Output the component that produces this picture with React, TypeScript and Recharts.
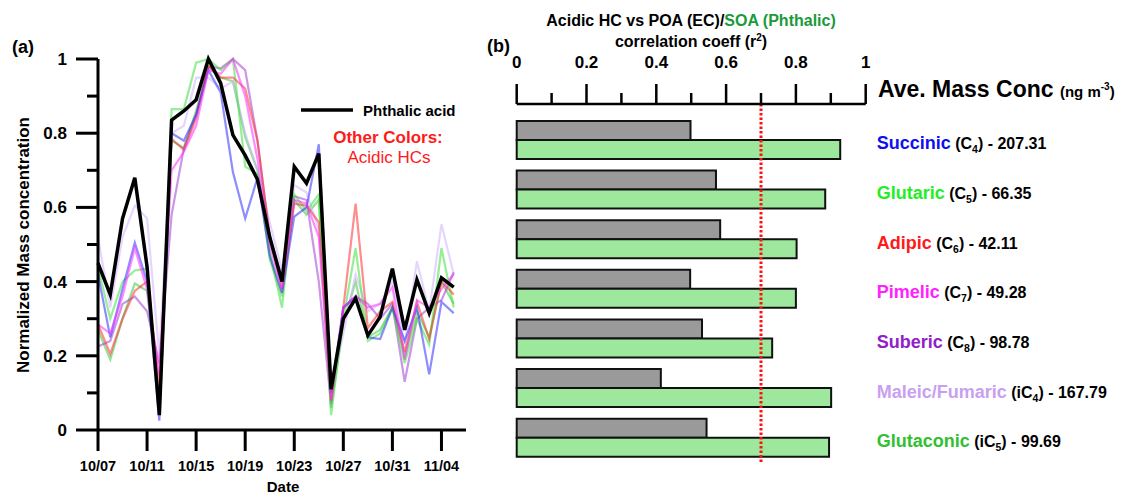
import React from 'react';
import { LineChart, Line, XAxis, YAxis, BarChart, Bar, ReferenceLine } from 'recharts';

const FONT = '"Liberation Sans", Arial, Helvetica, sans-serif';

// ---------- Panel (a) data ----------
const dates = ['10/07','10/08','10/09','10/10','10/11','10/12','10/13','10/14','10/15','10/16',
  '10/17','10/18','10/19','10/20','10/21','10/22','10/23','10/24','10/25','10/26',
  '10/27','10/28','10/29','10/30','10/31','11/01','11/02','11/03','11/04','11/05'];
const dateTickIdx = [0, 4, 8, 12, 16, 20, 24, 28];

const phthalic = [0.45,0.365,0.57,0.68,0.44,0.04,0.835,0.86,0.89,1.0,0.935,0.795,0.74,0.675,0.52,0.40,0.71,0.665,0.745,0.11,0.30,0.355,0.255,0.305,0.435,0.27,0.405,0.315,0.41,0.385];
const succinic = [0.42,0.25,0.38,0.505,0.40,0.025,0.80,0.78,0.85,0.97,0.91,0.695,0.57,0.68,0.47,0.37,0.575,0.60,0.77,0.10,0.33,0.36,0.25,0.245,0.33,0.24,0.33,0.15,0.345,0.315];
const glutaric = [0.44,0.30,0.40,0.43,0.435,0.05,0.865,0.865,0.99,1.0,0.97,1.0,0.71,0.69,0.48,0.33,0.635,0.59,0.635,0.04,0.30,0.49,0.24,0.26,0.33,0.18,0.30,0.23,0.49,0.33];
const adipic = [0.285,0.205,0.30,0.375,0.40,0.12,0.785,0.755,0.84,0.98,0.95,0.95,0.92,0.78,0.52,0.38,0.61,0.605,0.56,0.08,0.33,0.61,0.275,0.32,0.345,0.21,0.345,0.245,0.40,0.365];
const pimelic = [0.285,0.26,0.36,0.49,0.38,0.15,0.70,0.75,0.82,0.97,0.96,1.0,0.90,0.73,0.50,0.38,0.62,0.61,0.52,0.08,0.33,0.36,0.33,0.34,0.385,0.19,0.35,0.33,0.38,0.42];
const suberic = [0.225,0.24,0.34,0.36,0.32,0.18,0.58,0.76,0.85,0.98,0.975,1.0,0.97,0.78,0.52,0.41,0.63,0.62,0.40,0.07,0.33,0.36,0.34,0.30,0.34,0.13,0.30,0.33,0.35,0.425];
const maleic = [0.52,0.33,0.52,0.605,0.57,0.20,0.80,0.82,0.95,0.95,0.92,0.94,0.80,0.70,0.56,0.43,0.66,0.64,0.54,0.10,0.26,0.42,0.32,0.34,0.40,0.23,0.455,0.32,0.555,0.42];
const glutaconic = [0.27,0.19,0.30,0.395,0.375,0.08,0.78,0.76,0.86,0.98,0.95,0.94,0.79,0.70,0.46,0.36,0.62,0.58,0.62,0.06,0.29,0.40,0.25,0.27,0.33,0.20,0.32,0.25,0.40,0.34];

const leftYTicks = [0,0.1,0.2,0.3,0.4,0.5,0.6,0.7,0.8,0.9,1];

const timeData = dates.map((d, i) => ({
  day: i,
  phthalic: phthalic[i],
  succinic: succinic[i],
  glutaric: glutaric[i],
  adipic: adipic[i],
  pimelic: pimelic[i],
  suberic: suberic[i],
  maleic: maleic[i],
  glutaconic: glutaconic[i],
}));

const acidSeries = [
  { key: 'glutaconic', color: '#3cc83c' },
  { key: 'maleic', color: '#d2b4ff' },
  { key: 'suberic', color: '#a040d0' },
  { key: 'glutaric', color: '#40e040' },
  { key: 'adipic', color: '#ff3030' },
  { key: 'succinic', color: '#3030ff' },
  { key: 'pimelic', color: '#ff30ff' },
];

// ---------- Panel (b) data ----------
const acidNames = ['Succinic','Glutaric','Adipic','Pimelic','Suberic','Maleic/Fumaric','Glutaconic'];
const acidColors = ['#1010ee','#22ee22','#ff1a1a','#ff22ff','#9020c8','#c8a0f0','#30c030'];
const formulaPrefix = ['C','C','C','C','C','iC','iC'];
const formulaSub = ['4','5','6','7','8','4','5'];
const massConc = ['207.31','66.35','42.11','49.28','98.78','167.79','99.69'];
const corrPOA = [0.498,0.571,0.583,0.497,0.531,0.413,0.544];
const corrSOA = [0.927,0.884,0.802,0.800,0.732,0.901,0.895];
const corrTicks = [0,0.1,0.2,0.3,0.4,0.5,0.6,0.7,0.8,0.9,1];
const corrThreshold = 0.7;

const corrData = acidNames.map((n, i) => ({ name: n, poa: corrPOA[i], soa: corrSOA[i] }));

const isMajor = (v: number) => Math.round(v * 10) % 2 === 0;
const fmt = (v: number) => (v === 0 ? '0' : v === 1 ? '1' : v.toFixed(1));

const LeftYTick = (props: any) => {
  const { x, y, payload } = props;
  const v = payload.value as number;
  const major = isMajor(v);
  return (
    <g>
      <line x1={x - (major ? 22 : 11)} x2={x} y1={y} y2={y} stroke="#000" strokeWidth={3} />
      {major && (
        <text x={x - 31} y={y + 6} textAnchor="end" fontSize={17} fontWeight="bold" fill="#000" fontFamily={FONT}>
          {fmt(v)}
        </text>
      )}
    </g>
  );
};

const TopXTick = (props: any) => {
  const { x, y, payload } = props;
  const v = payload.value as number;
  const major = isMajor(v);
  return (
    <g>
      <line x1={x} x2={x} y1={y - (major ? 20 : 11)} y2={y} stroke="#000" strokeWidth={2.5} />
      {major && (
        <text x={x} y={y - 36} textAnchor="middle" fontSize={17} fontWeight="bold" fill="#000" fontFamily={FONT}>
          {fmt(v)}
        </text>
      )}
    </g>
  );
};

const RightLabelTick = (props: any) => {
  const { x, y, payload } = props;
  const i = acidNames.indexOf(payload.value);
  if (i < 0) return null;
  return (
    <text x={x + 11} y={y + 10} fontFamily={FONT} fontWeight="bold" fill="#000">
      <tspan fill={acidColors[i]} fontSize={18}>{acidNames[i]}</tspan>
      <tspan fontSize={16}> ({formulaPrefix[i]}</tspan>
      <tspan fontSize={10.5} dy={4}>{formulaSub[i]}</tspan>
      <tspan fontSize={16} dy={-4}>) - {massConc[i]}</tspan>
    </text>
  );
};

export default function App() {
  return (
    <div style={{ position: 'absolute', left: 0, top: 0, width: 1132, height: 495, background: '#fff', overflow: 'hidden', fontFamily: FONT }}>
      <div style={{ position: 'absolute', left: 0, top: 0 }}>
        <LineChart width={480} height={495} data={timeData} margin={{ top: 59, right: 14, left: 38, bottom: 0 }}>
          <XAxis
            type="number"
            dataKey="day"
            domain={[0, 30]}
            ticks={dateTickIdx}
            interval={0}
            tickFormatter={(v: number) => dates[v]}
            height={65}
            tickSize={21}
            tickMargin={10}
            axisLine={{ stroke: '#000', strokeWidth: 3 }}
            tickLine={{ stroke: '#000', strokeWidth: 3 }}
            tick={{ fill: '#000', fontSize: 14.5, fontWeight: 'bold', fontFamily: FONT }}
          />
          <YAxis
            type="number"
            domain={[0, 1]}
            ticks={leftYTicks}
            interval={0}
            width={60}
            tickSize={0}
            tickMargin={0}
            tickLine={false}
            axisLine={{ stroke: '#000', strokeWidth: 3 }}
            tick={LeftYTick}
          />
          {acidSeries.map((s) => (
            <Line
              key={s.key}
              type="linear"
              dataKey={s.key}
              stroke={s.color}
              strokeOpacity={0.55}
              strokeWidth={2.2}
              dot={false}
              activeDot={false}
              isAnimationActive={false}
            />
          ))}
          <Line
            type="linear"
            dataKey="phthalic"
            stroke="#000"
            strokeWidth={3.5}
            dot={false}
            activeDot={false}
            isAnimationActive={false}
          />
        </LineChart>
      </div>

      <div style={{ position: 'absolute', left: 480, top: 0 }}>
        <BarChart
          width={652}
          height={495}
          data={corrData}
          layout="vertical"
          margin={{ top: 54, right: 0, left: 36.7, bottom: 33 }}
          barCategoryGap={6.3}
          barGap={0}
        >
          <XAxis
            type="number"
            orientation="top"
            domain={[0, 1]}
            ticks={corrTicks}
            interval={0}
            height={50}
            tickSize={0}
            tickMargin={0}
            tickLine={false}
            axisLine={{ stroke: '#000', strokeWidth: 2.5 }}
            tick={TopXTick}
          />
          <YAxis
            type="category"
            dataKey="name"
            orientation="right"
            width={266.3}
            padding={{ top: 10.6, bottom: 0 }}
            tickSize={0}
            tickMargin={0}
            tickLine={false}
            axisLine={false}
            interval={0}
            tick={RightLabelTick}
          />
          <Bar dataKey="poa" fill="#9a9a9a" stroke="#111" strokeWidth={2} isAnimationActive={false} />
          <Bar dataKey="soa" fill="#9de89d" stroke="#111" strokeWidth={2} isAnimationActive={false} />
          <ReferenceLine x={corrThreshold} stroke="#ff1010" strokeWidth={3} strokeDasharray="2.5 2" />
        </BarChart>
      </div>

      <svg width={1132} height={495} style={{ position: 'absolute', left: 0, top: 0, pointerEvents: 'none' }} fontFamily={FONT}>
        <text x={12} y={53} fontSize={18} fontWeight="bold" fill="#000">(a)</text>
        <text x={25} y={245} fontSize={17} fontWeight="bold" fill="#000" textAnchor="middle" dominantBaseline="middle" transform="rotate(-90 25 245)">
          Normalized Mass concentration
        </text>
        <text x={283} y={491.5} fontSize={15} fontWeight="bold" fill="#000" textAnchor="middle">Date</text>
        <line x1={301} x2={353} y1={110} y2={110} stroke="#000" strokeWidth={3.5} />
        <text x={363} y={115.5} fontSize={15} fontWeight="bold" fill="#000">Phthalic acid</text>
        <text x={388} y={143} fontSize={17} fontWeight="bold" fill="#ff1a1a" textAnchor="middle">Other Colors:</text>
        <text x={389} y={163} fontSize={17} fill="#ff1a1a" textAnchor="middle">Acidic HCs</text>

        <text x={487} y={52} fontSize={18} fontWeight="bold" fill="#000">(b)</text>
        <text x={691} y={26} fontSize={16} fontWeight="bold" fill="#000" textAnchor="middle">
          Acidic HC vs POA (EC)/<tspan fill="#1a9a3a">SOA (Phthalic)</tspan>
        </text>
        <text x={691} y={47} fontSize={16} fontWeight="bold" fill="#000" textAnchor="middle">
          correlation coeff (r<tspan fontSize={10} dy={-6}>2</tspan><tspan dy={6}>)</tspan>
        </text>
        <text x={878} y={97} fontSize={23} fontWeight="bold" fill="#000">
          Ave. Mass Conc <tspan fontSize={15}>(ng m</tspan><tspan fontSize={10} dy={-7}>-3</tspan><tspan fontSize={15} dy={7}>)</tspan>
        </text>
      </svg>
    </div>
  );
}
